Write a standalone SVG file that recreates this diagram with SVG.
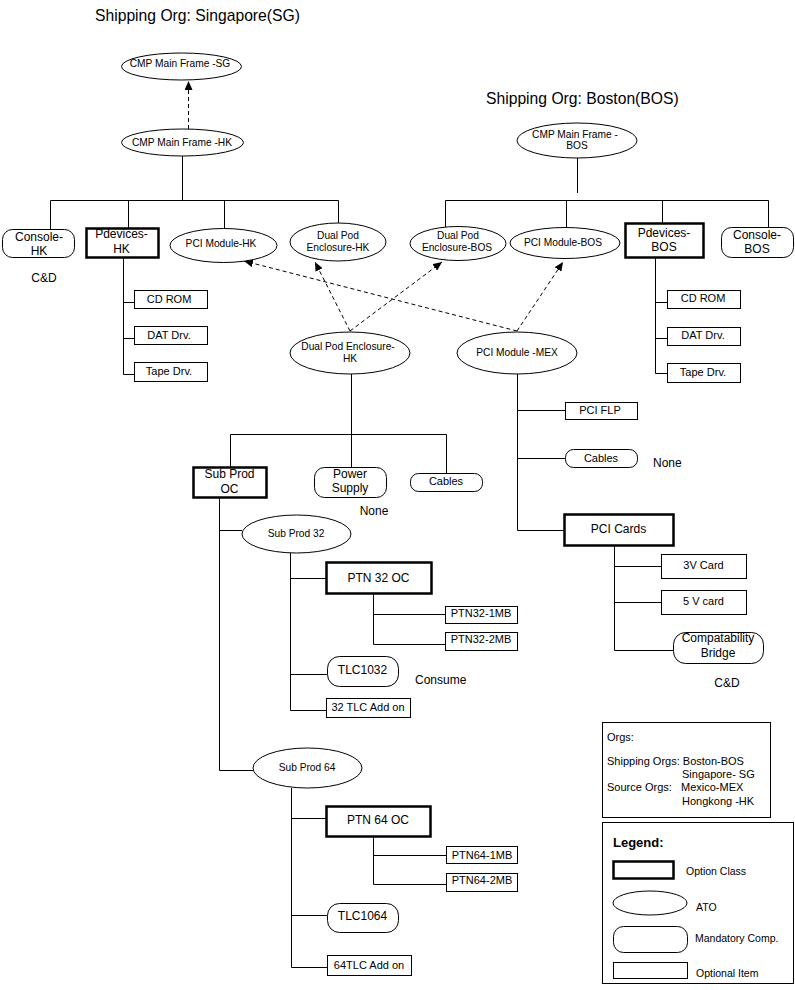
<svg xmlns="http://www.w3.org/2000/svg" width="795" height="990" viewBox="0 0 795 990">
<defs>
<marker id="arr" markerUnits="userSpaceOnUse" markerWidth="10" markerHeight="8" refX="9" refY="4" orient="auto"><path d="M0,0 L9,4 L0,8 z" fill="#000"/></marker>
<style>
text{font-family:"Liberation Sans",Arial,sans-serif;fill:#000}
.t10{font-size:10.2px;text-anchor:middle}
.t11{font-size:11px;text-anchor:middle}
.t12{font-size:12px;text-anchor:middle}
.lab{font-size:12px}
.title{font-size:15.7px}
.org{font-size:11px}
.leg{font-size:10.5px}
.shape{fill:#fff;stroke:#000;stroke-width:1}
.oc{fill:#fff;stroke:#000;stroke-width:2.5}
.con{fill:none;stroke:#000;stroke-width:1}
.dash{fill:none;stroke:#000;stroke-width:1;stroke-dasharray:4 3;marker-end:url(#arr)}
</style>
</defs>
<rect width="795" height="990" fill="#fff"/>
<text class="title" x="95" y="21">Shipping Org: Singapore(SG)</text>
<text class="title" x="486" y="104">Shipping Org: Boston(BOS)</text>

<g id="connectors">
<path class="con" d="M182.5,156 V200.5 M50.5,200.5 H338.5 M50.5,200.5 V229 M128.5,200.5 V228 M224.5,200.5 V228 M338.5,200.5 V223"/>
<path class="con" d="M123.5,257 V374.5 H134 M123.5,302.5 H134 M123.5,338.5 H134"/>
<path class="con" d="M577.5,158 V193 M445.5,200.5 H768.5 M445.5,200.5 V227 M566.5,200.5 V228 M662.5,200.5 V223 M768.5,200.5 V227"/>
<path class="con" d="M655.5,257 V373.5 H667 M655.5,302.5 H667 M655.5,338.5 H667"/>
<path class="con" d="M351.5,374 V434.5 M230.5,434.5 H446.5 M230.5,434.5 V467 M351.5,434.5 V467 M446.5,434.5 V473"/>
<path class="con" d="M517.5,374 V530.5 H564 M517.5,410.5 H565 M517.5,458.5 H565"/>
<path class="con" d="M614.5,545 V650.5 H673 M614.5,566.5 H661 M614.5,602.5 H661"/>
<path class="con" d="M219.5,497 V770.5 H253 M219.5,530.5 H242"/>
<path class="con" d="M290.5,553 V710.5 H326 M290.5,578.5 H326 M290.5,674.5 H327"/>
<path class="con" d="M373.5,593 V644.5 H445 M373.5,614.5 H445"/>
<path class="con" d="M291.5,788 V967.5 H327 M291.5,818.5 H326 M291.5,915.5 H327"/>
<path class="con" d="M373.5,836 V884.5 H446 M373.5,855.5 H446"/>
<path class="dash" d="M188.5,129 V81"/>
<path class="dash" d="M350,331 L315,262"/>
<path class="dash" d="M350,331 L442,262"/>
<path class="dash" d="M517,331 L244,261"/>
<path class="dash" d="M517,331 L563,262"/>
</g>

<g id="n_cmp_sg"><ellipse class="shape" cx="181.5" cy="66.5" rx="60" ry="13.5"/><text class="t10" x="180" y="67">CMP Main Frame -SG</text></g>
<g id="n_cmp_hk"><ellipse class="shape" cx="182.5" cy="142.5" rx="61" ry="13.5"/><text class="t10" x="182" y="146">CMP Main Frame -HK</text></g>
<g id="n_console_hk"><rect class="shape" x="2.5" y="229.5" width="72" height="28" rx="10"/><text class="t12" x="39" y="241">Console-</text><text class="t12" x="39" y="255">HK</text></g>
<g id="n_pdev_hk"><rect class="oc" x="86.5" y="228.5" width="72" height="29"/><text class="t12" x="121.5" y="238">Pdevices-</text><text class="t12" x="121.5" y="253">HK</text></g>
<g id="n_pci_hk"><ellipse class="shape" cx="223.5" cy="245.5" rx="53.5" ry="17"/><text class="t10" x="221" y="247">PCI Module-HK</text></g>
<g id="n_dual_hk"><ellipse class="shape" cx="338" cy="242" rx="48" ry="19"/><text class="t10" x="338" y="239">Dual Pod</text><text class="t10" x="338" y="251">Enclosure-HK</text></g>
<text class="lab" x="44" y="282" text-anchor="middle">C&amp;D</text>
<g id="n_cdrom_hk"><rect class="shape" x="134.5" y="290.5" width="73" height="18"/><text class="t11" x="169" y="302.5">CD ROM</text></g>
<g id="n_dat_hk"><rect class="shape" x="134.5" y="326.5" width="73" height="18"/><text class="t11" x="169" y="338.5">DAT Drv.</text></g>
<g id="n_tape_hk"><rect class="shape" x="134.5" y="362.5" width="73" height="19"/><text class="t11" x="169" y="375">Tape Drv.</text></g>

<g id="n_cmp_bos"><ellipse class="shape" cx="577" cy="140.5" rx="60" ry="17.5"/><text class="t10" x="575" y="137.5">CMP Main Frame -</text><text class="t10" x="577" y="148.5">BOS</text></g>
<g id="n_dual_bos"><ellipse class="shape" cx="458" cy="243.5" rx="48" ry="17"/><text class="t10" x="458" y="238.5">Dual Pod</text><text class="t10" x="457" y="250.5">Enclosure-BOS</text></g>
<g id="n_pci_bos"><ellipse class="shape" cx="565" cy="243" rx="55" ry="15.5"/><text class="t10" x="563" y="245.5">PCI Module-BOS</text></g>
<g id="n_pdev_bos"><rect class="oc" x="625.5" y="223.5" width="78" height="34"/><text class="t12" x="664" y="237">Pdevices-</text><text class="t12" x="664" y="251">BOS</text></g>
<g id="n_console_bos"><rect class="shape" x="721.5" y="227.5" width="72" height="30" rx="10"/><text class="t12" x="757" y="238.5">Console-</text><text class="t12" x="757" y="253">BOS</text></g>
<g id="n_cdrom_bos"><rect class="shape" x="667.5" y="290.5" width="73" height="18"/><text class="t11" x="703" y="302">CD ROM</text></g>
<g id="n_dat_bos"><rect class="shape" x="667.5" y="327.5" width="73" height="18"/><text class="t11" x="703" y="339">DAT Drv.</text></g>
<g id="n_tape_bos"><rect class="shape" x="667.5" y="363.5" width="73" height="19"/><text class="t11" x="703" y="375.5">Tape Drv.</text></g>

<g id="n_dual_lower"><ellipse class="shape" cx="350" cy="353" rx="60" ry="21"/><text class="t10" x="348" y="350">Dual Pod Enclosure-</text><text class="t10" x="350" y="362">HK</text></g>
<g id="n_pci_mex"><ellipse class="shape" cx="517" cy="353" rx="60" ry="21"/><text class="t10" x="517" y="356">PCI Module -MEX</text></g>
<g id="n_subprod_oc"><rect class="oc" x="193.5" y="467.5" width="73" height="30"/><text class="t12" x="229.5" y="478">Sub Prod</text><text class="t12" x="229.5" y="492.5">OC</text></g>
<g id="n_power"><rect class="shape" x="314.5" y="467.5" width="72" height="30" rx="10"/><text class="t12" x="350" y="478">Power</text><text class="t12" x="350" y="492">Supply</text></g>
<g id="n_cables_mid"><rect class="shape" x="410.5" y="473.5" width="72" height="18" rx="8"/><text class="t11" x="446" y="485">Cables</text></g>
<text class="lab" x="374" y="515" text-anchor="middle">None</text>
<g id="n_pci_flp"><rect class="shape" x="565.5" y="402.5" width="72" height="17"/><text class="t11" x="600" y="413.5">PCI FLP</text></g>
<g id="n_cables_r"><rect class="shape" x="565.5" y="449.5" width="72" height="18" rx="8"/><text class="t11" x="601" y="461.5">Cables</text></g>
<text class="lab" x="653" y="467">None</text>
<g id="n_pci_cards"><rect class="oc" x="564.5" y="514.5" width="109" height="31"/><text class="t12" x="618.5" y="532.5">PCI Cards</text></g>
<g id="n_3v"><rect class="shape" x="661.5" y="554.5" width="85" height="24"/><text class="t11" x="703.5" y="568.5">3V Card</text></g>
<g id="n_5v"><rect class="shape" x="661.5" y="590.5" width="85" height="24"/><text class="t11" x="703.5" y="604.5">5 V card</text></g>
<g id="n_compat"><rect class="shape" x="673.5" y="632.5" width="90" height="31" rx="12"/><text class="t12" x="718" y="642">Compatability</text><text class="t12" x="718" y="657">Bridge</text></g>
<text class="lab" x="727" y="687" text-anchor="middle">C&amp;D</text>

<g id="n_subprod32"><ellipse class="shape" cx="296.5" cy="534" rx="54.5" ry="19"/><text class="t10" x="296" y="536.5">Sub Prod 32</text></g>
<g id="n_ptn32oc"><rect class="oc" x="326.5" y="562.5" width="105" height="31"/><text class="t12" x="378.5" y="581.5">PTN 32 OC</text></g>
<g id="n_ptn32_1"><rect class="shape" x="445.5" y="606.5" width="72" height="17"/><text class="t11" x="481" y="617">PTN32-1MB</text></g>
<g id="n_ptn32_2"><rect class="shape" x="445.5" y="632.5" width="72" height="18"/><text class="t11" x="481" y="643">PTN32-2MB</text></g>
<g id="n_tlc1032"><rect class="shape" x="327.5" y="656.5" width="71" height="30" rx="12"/><text class="t12" x="362.5" y="674">TLC1032</text></g>
<text class="lab" x="415" y="684">Consume</text>
<g id="n_32tlc"><rect class="shape" x="326.5" y="698.5" width="84" height="19"/><text class="t11" x="368" y="711">32 TLC Add on</text></g>

<g id="n_subprod64"><ellipse class="shape" cx="307.5" cy="768" rx="54.5" ry="20"/><text class="t10" x="307" y="770.5">Sub Prod 64</text></g>
<g id="n_ptn64oc"><rect class="oc" x="326.5" y="806.5" width="104" height="30"/><text class="t12" x="378" y="823.5">PTN 64 OC</text></g>
<g id="n_ptn64_1"><rect class="shape" x="446.5" y="846.5" width="71" height="17"/><text class="t11" x="482" y="858.5">PTN64-1MB</text></g>
<g id="n_ptn64_2"><rect class="shape" x="446.5" y="873.5" width="71" height="18"/><text class="t11" x="482" y="884">PTN64-2MB</text></g>
<g id="n_tlc1064"><rect class="shape" x="327.5" y="903.5" width="71" height="29" rx="12"/><text class="t12" x="362.5" y="920">TLC1064</text></g>
<g id="n_64tlc"><rect class="shape" x="327.5" y="955.5" width="84" height="20"/><text class="t11" x="369" y="969">64TLC Add on</text></g>

<g id="orgs">
<rect class="shape" x="602.5" y="722.5" width="168" height="95"/>
<text class="org" x="607" y="741">Orgs:</text>
<text class="org" x="607" y="765">Shipping Orgs: Boston-BOS</text>
<text class="org" x="682" y="778">Singapore- SG</text>
<text class="org" x="607" y="791">Source Orgs:</text>
<text class="org" x="681" y="791">Mexico-MEX</text>
<text class="org" x="682" y="805">Hongkong -HK</text>
</g>
<g id="legend">
<rect class="shape" x="602.5" y="822.5" width="191" height="161"/>
<text x="613" y="847" style="font-size:13px;font-weight:bold">Legend:</text>
<rect class="oc" x="613.5" y="861.5" width="60" height="17"/>
<text class="leg" x="686" y="875">Option Class</text>
<ellipse class="shape" cx="650" cy="903" rx="37" ry="12"/>
<text class="leg" x="696" y="911">ATO</text>
<rect class="shape" x="613.5" y="926.5" width="74" height="26" rx="10"/>
<text class="leg" x="695" y="942">Mandatory Comp.</text>
<rect class="shape" x="613.5" y="962.5" width="74" height="16"/>
<text class="leg" x="696" y="977">Optional Item</text>
</g>
</svg>
